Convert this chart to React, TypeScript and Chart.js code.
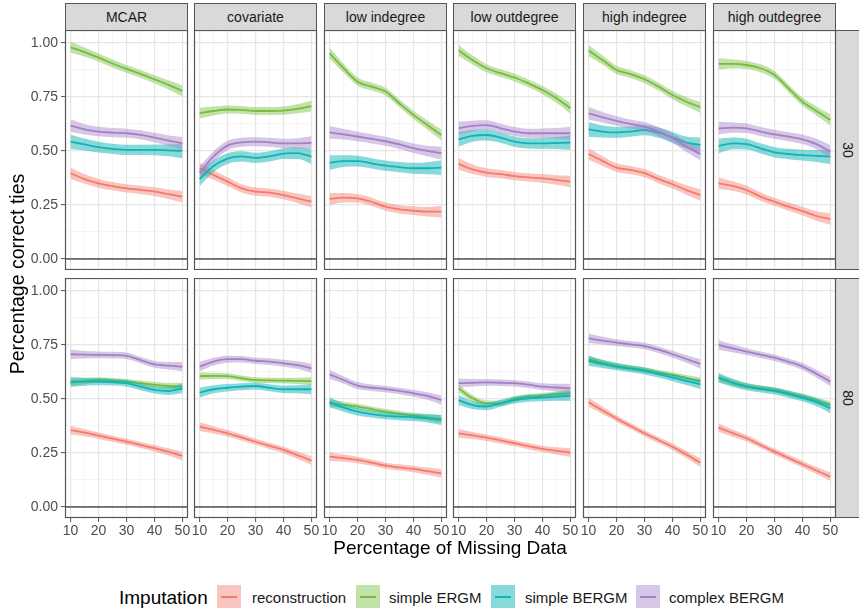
import React, { useEffect, useRef } from "react";
import { Chart, registerables } from "chart.js";

Chart.register(...registerables);

// ---- data -------------------------------------------------------------
const missingPct = [10, 15, 20, 25, 30, 35, 40, 45, 50];

const methods = ["reconstruction", "simple ERGM", "simple BERGM", "complex BERGM"];
const lineColors = ["#F47A6E", "#76BC3E", "#12B3B5", "#A57FC6"];
const bandColors = [
  "rgba(244,122,110,0.44)",
  "rgba(118,188,62,0.44)",
  "rgba(18,179,181,0.5)",
  "rgba(165,127,198,0.44)",
];

const mechanisms = ["MCAR", "covariate", "low indegree", "low outdegree", "high indegree", "high outdegree"];
const networkSizes = ["30", "80"];

const yMajorTicks = [0, 0.25, 0.5, 0.75, 1];
const yMinorTicks = [0.125, 0.375, 0.625, 0.875];
const xMajorTicks = [10, 20, 30, 40, 50];
const xMinorTicks = [15, 25, 35, 45];
const xLimits = [8, 52];
const yLimits = [-0.051, 1.06];
const referenceLineY = 0;

// smoother half-widths (per method) and how they widen toward the ends
const bandHalfWidth30 = [0.02, 0.019, 0.025, 0.022];
const bandHalfWidth80 = [0.015, 0.013, 0.017, 0.016];
const bandProfile = [1.35, 1.1, 1.0, 0.95, 0.95, 0.95, 1.0, 1.1, 1.35];

// rows: reconstruction, simple ERGM, simple BERGM, complex BERGM
const mcar30 = [
  [0.397, 0.37, 0.35, 0.337, 0.327, 0.32, 0.312, 0.3, 0.289],
  [0.98, 0.958, 0.932, 0.905, 0.88, 0.857, 0.832, 0.806, 0.778],
  [0.543, 0.53, 0.518, 0.51, 0.505, 0.505, 0.505, 0.503, 0.5],
  [0.617, 0.6, 0.59, 0.585, 0.582, 0.575, 0.562, 0.548, 0.535],
];
const covariate30 = [
  [0.42, 0.389, 0.358, 0.327, 0.312, 0.307, 0.296, 0.281, 0.265],
  [0.675, 0.685, 0.692, 0.69, 0.685, 0.685, 0.687, 0.695, 0.708],
  [0.37, 0.43, 0.465, 0.475, 0.468, 0.475, 0.488, 0.49, 0.474],
  [0.4, 0.475, 0.525, 0.54, 0.543, 0.54, 0.535, 0.535, 0.538],
];
const lowIn30 = [
  [0.278, 0.284, 0.281, 0.265, 0.242, 0.23, 0.224, 0.219, 0.219],
  [0.952, 0.883, 0.821, 0.798, 0.775, 0.72, 0.667, 0.62, 0.574],
  [0.446, 0.453, 0.453, 0.443, 0.432, 0.425, 0.42, 0.42, 0.423],
  [0.586, 0.577, 0.567, 0.556, 0.545, 0.53, 0.513, 0.5, 0.49],
];
const lowOut30 = [
  [0.44, 0.415, 0.4, 0.393, 0.384, 0.378, 0.373, 0.366, 0.358],
  [0.965, 0.921, 0.883, 0.86, 0.84, 0.813, 0.782, 0.744, 0.698],
  [0.554, 0.57, 0.574, 0.562, 0.543, 0.535, 0.535, 0.537, 0.539],
  [0.605, 0.616, 0.62, 0.605, 0.59, 0.582, 0.582, 0.582, 0.582],
];
const highIn30 = [
  [0.486, 0.454, 0.423, 0.412, 0.397, 0.37, 0.346, 0.319, 0.296],
  [0.965, 0.921, 0.875, 0.856, 0.832, 0.798, 0.759, 0.728, 0.702],
  [0.6, 0.59, 0.586, 0.59, 0.597, 0.585, 0.563, 0.539, 0.528],
  [0.674, 0.656, 0.639, 0.625, 0.613, 0.59, 0.559, 0.52, 0.486],
];
const highOut30 = [
  [0.35, 0.338, 0.319, 0.289, 0.265, 0.242, 0.222, 0.199, 0.185],
  [0.903, 0.903, 0.898, 0.883, 0.852, 0.79, 0.728, 0.685, 0.644],
  [0.523, 0.535, 0.532, 0.512, 0.494, 0.486, 0.481, 0.477, 0.474],
  [0.605, 0.608, 0.605, 0.59, 0.577, 0.566, 0.554, 0.532, 0.497],
];
const mcar80 = [
  [0.356, 0.344, 0.33, 0.316, 0.302, 0.287, 0.272, 0.255, 0.236],
  [0.576, 0.583, 0.588, 0.585, 0.58, 0.573, 0.565, 0.56, 0.557],
  [0.58, 0.58, 0.58, 0.578, 0.573, 0.557, 0.542, 0.537, 0.549],
  [0.707, 0.705, 0.704, 0.703, 0.7, 0.68, 0.66, 0.654, 0.65],
];
const covariate80 = [
  [0.372, 0.357, 0.341, 0.322, 0.302, 0.283, 0.264, 0.24, 0.215],
  [0.606, 0.607, 0.606, 0.596, 0.588, 0.586, 0.585, 0.584, 0.583],
  [0.529, 0.545, 0.552, 0.557, 0.56, 0.552, 0.545, 0.545, 0.545],
  [0.65, 0.673, 0.684, 0.684, 0.677, 0.673, 0.665, 0.657, 0.642],
];
const lowIn80 = [
  [0.233, 0.226, 0.218, 0.205, 0.191, 0.183, 0.176, 0.166, 0.156],
  [0.48, 0.473, 0.465, 0.453, 0.441, 0.432, 0.423, 0.415, 0.407],
  [0.485, 0.46, 0.441, 0.43, 0.422, 0.418, 0.415, 0.41, 0.403],
  [0.614, 0.588, 0.562, 0.552, 0.546, 0.537, 0.526, 0.514, 0.495],
];
const lowOut80 = [
  [0.341, 0.331, 0.321, 0.308, 0.295, 0.282, 0.269, 0.26, 0.252],
  [0.549, 0.503, 0.48, 0.48, 0.5, 0.511, 0.515, 0.522, 0.526],
  [0.495, 0.472, 0.465, 0.48, 0.495, 0.503, 0.506, 0.511, 0.514],
  [0.573, 0.575, 0.577, 0.575, 0.573, 0.566, 0.557, 0.553, 0.549],
];
const highIn80 = [
  [0.485, 0.447, 0.41, 0.375, 0.341, 0.31, 0.279, 0.243, 0.205],
  [0.684, 0.667, 0.653, 0.643, 0.634, 0.622, 0.611, 0.597, 0.583],
  [0.677, 0.662, 0.65, 0.64, 0.63, 0.615, 0.599, 0.583, 0.568],
  [0.781, 0.77, 0.761, 0.753, 0.745, 0.728, 0.707, 0.685, 0.662],
];
const highOut80 = [
  [0.367, 0.342, 0.318, 0.287, 0.256, 0.227, 0.198, 0.169, 0.14],
  [0.596, 0.576, 0.56, 0.55, 0.542, 0.527, 0.511, 0.493, 0.472],
  [0.599, 0.575, 0.557, 0.546, 0.537, 0.522, 0.506, 0.485, 0.457],
  [0.75, 0.734, 0.719, 0.705, 0.691, 0.672, 0.65, 0.617, 0.58],
];

const panelData = [
  [mcar30, covariate30, lowIn30, lowOut30, highIn30, highOut30],
  [mcar80, covariate80, lowIn80, lowOut80, highIn80, highOut80],
];

// ---- layout -----------------------------------------------------------
const FONT = "'Liberation Sans', Arial, Helvetica, sans-serif";
const colLeft = [65, 194, 324, 453, 583, 713];
const rowTop = [30, 278];
const PANEL_W = 123;
const PANEL_H = 240;
const Y_AXIS_W = 60;
const X_AXIS_H = 26;
const SIDE_PAD = 4;
const BORDER = "#555555";
const TICK_TEXT = "#4D4D4D";

const isMember = (list: number[], v: number) => list.some((t) => Math.abs(t - v) < 1e-9);

const panelFrame = {
  id: "panelFrame",
  afterDraw(chart: any) {
    const { ctx, chartArea } = chart;
    ctx.save();
    ctx.strokeStyle = BORDER;
    ctx.lineWidth = 1.2;
    ctx.strokeRect(
      chartArea.left + 0.5,
      chartArea.top + 0.5,
      chartArea.right - chartArea.left - 1,
      chartArea.bottom - chartArea.top - 1
    );
    ctx.restore();
  },
};

function Panel({ row, col }: { row: number; col: number }) {
  const ref = useRef<HTMLCanvasElement>(null);
  const leftEdge = col === 0;
  const bottomEdge = row === 1;
  const padLeft = leftEdge ? Y_AXIS_W : SIDE_PAD;
  const width = padLeft + PANEL_W + SIDE_PAD;
  const height = PANEL_H + (bottomEdge ? X_AXIS_H : 0);

  useEffect(() => {
    const series = panelData[row][col];
    const half = row === 0 ? bandHalfWidth30 : bandHalfWidth80;
    const seq: any[] = [];
    series.forEach((vals, s) => {
      seq.push({
        label: methods[s] + " upper",
        data: missingPct.map((x, i) => ({ x, y: vals[i] + half[s] * bandProfile[i] })),
        borderColor: "transparent",
        borderWidth: 0,
        backgroundColor: bandColors[s],
        fill: "-1",
        pointRadius: 0,
        cubicInterpolationMode: "monotone",
      });
      seq.push({
        label: methods[s] + " lower",
        data: missingPct.map((x, i) => ({ x, y: vals[i] - half[s] * bandProfile[i] })),
        borderColor: "transparent",
        borderWidth: 0,
        fill: false,
        pointRadius: 0,
        cubicInterpolationMode: "monotone",
      });
      seq.push({
        label: methods[s],
        data: missingPct.map((x, i) => ({ x, y: vals[i] })),
        borderColor: lineColors[s],
        borderWidth: 1.8,
        fill: false,
        pointRadius: 0,
        cubicInterpolationMode: "monotone",
      });
    });
    seq.push({
      label: "zero",
      data: xLimits.map((x) => ({ x, y: referenceLineY })),
      borderColor: "#000000",
      borderWidth: 1,
      fill: false,
      pointRadius: 0,
    });
    // datasets are painted from the last index to the first
    const datasets = seq.reverse();

    const gridColor = (major: number[]) => (c: any) =>
      c.tick && isMember(major, c.tick.value) ? "#E6E6E6" : "#F2F2F2";
    const gridWidth = (major: number[]) => (c: any) =>
      c.tick && isMember(major, c.tick.value) ? 1.2 : 0.8;
    const tickColor = (major: number[]) => (c: any) =>
      c.tick && isMember(major, c.tick.value) ? BORDER : "transparent";

    const chart = new Chart(ref.current as HTMLCanvasElement, {
      type: "line",
      data: { datasets },
      options: {
        animation: false,
        responsive: false,
        maintainAspectRatio: false,
        layout: { padding: { left: leftEdge ? 0 : SIDE_PAD, right: SIDE_PAD, top: 0, bottom: 0 } },
        plugins: { legend: { display: false }, tooltip: { enabled: false } },
        scales: {
          x: {
            type: "linear",
            min: xLimits[0],
            max: xLimits[1],
            afterBuildTicks: (s: any) => {
              s.ticks = [...xMajorTicks, ...xMinorTicks].sort((a, b) => a - b).map((v) => ({ value: v }));
            },
            afterFit: (s: any) => {
              s.height = bottomEdge ? X_AXIS_H : 0;
              s.paddingLeft = 0;
              s.paddingRight = 0;
            },
            ticks: {
              display: bottomEdge,
              autoSkip: false,
              maxRotation: 0,
              padding: 1,
              color: TICK_TEXT,
              font: { family: FONT, size: 14 },
              callback: (v: any) => (isMember(xMajorTicks, Number(v)) ? String(v) : ""),
            },
            grid: {
              color: gridColor(xMajorTicks),
              lineWidth: gridWidth(xMajorTicks),
              drawTicks: bottomEdge,
              tickLength: 4,
              tickColor: tickColor(xMajorTicks),
              tickWidth: 1,
            },
            border: { display: false },
          },
          y: {
            type: "linear",
            min: yLimits[0],
            max: yLimits[1],
            afterBuildTicks: (s: any) => {
              s.ticks = [...yMajorTicks, ...yMinorTicks].sort((a, b) => a - b).map((v) => ({ value: v }));
            },
            afterFit: (s: any) => {
              s.width = leftEdge ? Y_AXIS_W : 0;
              s.paddingTop = 0;
              s.paddingBottom = 0;
            },
            ticks: {
              display: leftEdge,
              autoSkip: false,
              padding: 3,
              color: TICK_TEXT,
              font: { family: FONT, size: 14 },
              callback: (v: any) => (isMember(yMajorTicks, Number(v)) ? Number(v).toFixed(2) : ""),
            },
            grid: {
              color: gridColor(yMajorTicks),
              lineWidth: gridWidth(yMajorTicks),
              drawTicks: leftEdge,
              tickLength: 4,
              tickColor: tickColor(yMajorTicks),
              tickWidth: 1,
            },
            border: { display: false },
          },
        },
      } as any,
      plugins: [panelFrame],
    });
    return () => chart.destroy();
  }, [row, col]);

  return (
    <canvas
      ref={ref}
      width={width}
      height={height}
      style={{
        position: "absolute",
        left: colLeft[col] - padLeft,
        top: rowTop[row],
        width,
        height,
      }}
    />
  );
}

export default function App() {
  const stripText: React.CSSProperties = {
    fontFamily: FONT,
    fontSize: 14,
    color: "#1A1A1A",
  };
  return (
    <div
      style={{
        position: "absolute",
        left: 0,
        top: 0,
        width: 859,
        height: 612,
        background: "#FFFFFF",
        overflow: "hidden",
        fontFamily: FONT,
      }}
    >
      {mechanisms.map((m, c) => (
        <div
          key={m}
          style={{
            ...stripText,
            position: "absolute",
            left: colLeft[c],
            top: 3,
            width: PANEL_W,
            height: 28,
            boxSizing: "border-box",
            border: `1.2px solid ${BORDER}`,
            background: "#D9D9D9",
            display: "flex",
            alignItems: "center",
            justifyContent: "center",
          }}
        >
          {m}
        </div>
      ))}
      {networkSizes.map((n, r) => (
        <div
          key={n}
          style={{
            position: "absolute",
            left: 835,
            top: rowTop[r],
            width: 25,
            height: PANEL_H,
            boxSizing: "border-box",
            border: `1.2px solid ${BORDER}`,
            background: "#D9D9D9",
            display: "flex",
            alignItems: "center",
            justifyContent: "center",
          }}
        >
          <div style={{ ...stripText, transform: "rotate(90deg)" }}>{n}</div>
        </div>
      ))}
      {[0, 1].map((r) =>
        mechanisms.map((m, c) => <Panel key={`${r}-${c}`} row={r} col={c} />)
      )}
      <div
        style={{
          position: "absolute",
          left: 17 - 150,
          top: 274 - 12,
          width: 300,
          height: 24,
          lineHeight: "24px",
          textAlign: "center",
          fontSize: 19.5,
          color: "#000",
          transform: "rotate(-90deg)",
        }}
      >
        Percentage correct ties
      </div>
      <div
        style={{
          position: "absolute",
          left: 450 - 200,
          top: 548 - 12,
          width: 400,
          height: 24,
          lineHeight: "24px",
          textAlign: "center",
          fontSize: 19,
          color: "#000",
        }}
      >
        Percentage of Missing Data
      </div>
      <div
        style={{
          position: "absolute",
          left: 119,
          top: 598 - 12,
          height: 24,
          lineHeight: "24px",
          fontSize: 19,
          color: "#000",
        }}
      >
        Imputation
      </div>
      {methods.map((m, i) => {
        const keyLeft = [217, 356, 491, 636][i];
        const labelLeft = [252, 389, 525, 669][i];
        return (
          <React.Fragment key={m}>
            <div
              style={{
                position: "absolute",
                left: keyLeft,
                top: 585,
                width: 24,
                height: 23,
                background: bandColors[i],
              }}
            >
              <div
                style={{
                  position: "absolute",
                  left: 4,
                  top: 10.5,
                  width: 16,
                  height: 2,
                  background: lineColors[i],
                }}
              />
            </div>
            <div
              style={{
                position: "absolute",
                left: labelLeft,
                top: 598 - 10,
                height: 20,
                lineHeight: "20px",
                fontSize: 15,
                color: "#1A1A1A",
                whiteSpace: "nowrap",
              }}
            >
              {m}
            </div>
          </React.Fragment>
        );
      })}
    </div>
  );
}
